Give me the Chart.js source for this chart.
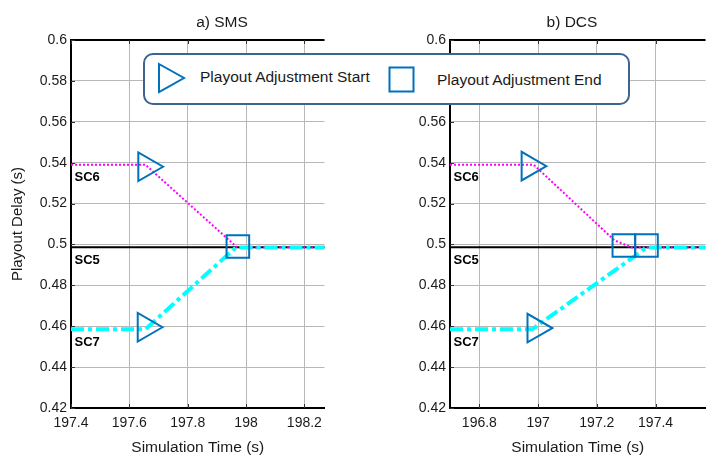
<!DOCTYPE html>
<html>
<head>
<meta charset="utf-8">
<script src="https://cdn.jsdelivr.net/npm/chart.js@4.4.1/dist/chart.umd.min.js"></script>
<style>
  html, body { margin: 0; padding: 0; background: #fff; }
  #page { position: relative; width: 716px; height: 456px; overflow: hidden;
          font-family: "Liberation Sans", Arial, sans-serif; color: #1a1a1a; }
  canvas { position: absolute; top: 0; }
  #chartA { left: 0; }
  #chartB { left: 380px; }
  .title { position: absolute; top: 13px; font-size: 15.5px; line-height: 18px;
           transform: translateX(-50%); white-space: nowrap; }
  #legend { position: absolute; left: 143px; top: 53px; width: 487px; height: 52px;
            box-sizing: border-box; border: 2px solid #3e6391; border-radius: 10px;
            background: #fff; z-index: 2; }
  #legend svg { position: absolute; }
  #legend span { position: absolute; font-size: 15.5px; line-height: 18px; white-space: nowrap; }
</style>
</head>
<body>
<div id="page">
  <canvas id="chartA" width="343" height="456"></canvas>
  <canvas id="chartB" width="344" height="456"></canvas>
  <div class="title" style="left:222px">a) SMS</div>
  <div class="title" style="left:572px">b) DCS</div>
  <div id="legend">
    <svg style="left:12px;top:7px" width="30" height="32">
      <polygon points="2,2 27,16 2,30" fill="none" stroke="#0072BD" stroke-width="2"/>
    </svg>
    <span style="left:55px;top:13px">Playout Adjustment Start</span>
    <svg style="left:243px;top:11px" width="28" height="28">
      <rect x="1.5" y="1.5" width="24" height="24" fill="none" stroke="#0072BD" stroke-width="2"/>
    </svg>
    <span style="left:292px;top:16px">Playout Adjustment End</span>
  </div>
</div>
<script>
// y axis (shared by both panels)
var yTicks = [0.42, 0.44, 0.46, 0.48, 0.5, 0.52, 0.54, 0.56, 0.58, 0.6];
var yTickLabels = ["0.42", "0.44", "0.46", "0.48", "0.5", "0.52", "0.54", "0.56", "0.58", "0.6"];
var seriesNames = ["SC6", "SC5", "SC7"];

// a) SMS
var smsTicks = [197.4, 197.6, 197.8, 198, 198.2];
var smsTickLabels = ["197.4", "197.6", "197.8", "198", "198.2"];
var smsTime6 = [197.4, 197.655, 197.97, 198.27];
var smsDelay6 = [0.539, 0.539, 0.4985, 0.4985];
var smsTime5 = [197.4, 198.27];
var smsDelay5 = [0.4986, 0.4986];
var smsTime7 = [197.4, 197.655, 197.965, 198.27];
var smsDelay7 = [0.4585, 0.4585, 0.4985, 0.4985];
var smsStartTime = [197.659, 197.657];
var smsStartDelay = [0.538, 0.4595];
var smsEndTime = [197.972];
var smsEndDelay = [0.499];

// b) DCS
var dcsTicks = [196.8, 197, 197.2, 197.4];
var dcsTickLabels = ["196.8", "197", "197.2", "197.4"];
var dcsTime6 = [196.7, 196.985, 197.26, 197.32, 197.57];
var dcsDelay6 = [0.539, 0.539, 0.502, 0.4985, 0.4985];
var dcsTime5 = [196.7, 197.57];
var dcsDelay5 = [0.4986, 0.4986];
var dcsTime7 = [196.7, 196.98, 197.37, 197.57];
var dcsDelay7 = [0.4585, 0.4585, 0.4985, 0.4985];
var dcsStartTime = [196.972, 196.992];
var dcsStartDelay = [0.5383, 0.4591];
var dcsEndTime = [197.292, 197.369];
var dcsEndDelay = [0.4995, 0.4995];

var FONT = "'Liberation Sans', Arial, sans-serif";
var MARKER = "#0072BD";
var GRID = "#b8b8b8";

function toPoints(xs, ys) {
    var pts = [];
    for (var i = 0; i < xs.length; i++) pts.push({x: xs[i], y: ys[i]});
    return pts;
}

// top border and the small inward tick marks
var framePlugin = {
    id: "frame",
    afterDraw: function(chart) {
        var ctx = chart.ctx, a = chart.chartArea;
        var xs = chart.scales.x, ys = chart.scales.y;
        ctx.save();
        ctx.strokeStyle = "#000";
        ctx.lineWidth = 2;
        ctx.beginPath();
        ctx.moveTo(a.left - 1, a.top);
        ctx.lineTo(a.right, a.top);
        ctx.stroke();
        ctx.lineWidth = 1;
        ctx.strokeStyle = "#333";
        ctx.beginPath();
        xs.ticks.forEach(function(t) {
            var px = Math.round(xs.getPixelForValue(t.value)) + 0.5;
            ctx.moveTo(px, a.top); ctx.lineTo(px, a.top + 4);
            ctx.moveTo(px, a.bottom); ctx.lineTo(px, a.bottom - 4);
        });
        ys.ticks.forEach(function(t) {
            var py = Math.round(ys.getPixelForValue(t.value)) + 0.5;
            ctx.moveTo(a.left, py); ctx.lineTo(a.left + 4, py);
        });
        ctx.stroke();
        ctx.restore();
    }
};

// SC6 / SC5 / SC7 names under the start of each curve
var namePlugin = {
    id: "names",
    afterDatasetsDraw: function(chart) {
        var ctx = chart.ctx, a = chart.chartArea, ys = chart.scales.y;
        ctx.save();
        ctx.font = "bold 13px " + FONT;
        ctx.fillStyle = "#000";
        ctx.textBaseline = "middle";
        ctx.textAlign = "left";
        chart.data.datasets.forEach(function(ds) {
            if (!ds.seriesName) return;
            var py = ys.getPixelForValue(ds.data[0].y) + 13;
            ctx.fillText(ds.seriesName, a.left + 3.5, py);
        });
        ctx.restore();
    }
};

function makeChart(id, p) {
    var lineBase = {showLine: true, pointRadius: 0, fill: false, borderCapStyle: "butt"};
    var datasets = [
        Object.assign({seriesName: seriesNames[1], data: toPoints(p.t5, p.d5),
            borderColor: "#000", borderWidth: 2, order: 3}, lineBase),
        Object.assign({seriesName: seriesNames[0], data: toPoints(p.t6, p.d6),
            borderColor: "#ff00ff", borderWidth: 2, borderDash: [2, 2], order: 2}, lineBase),
        Object.assign({seriesName: seriesNames[2], data: toPoints(p.t7, p.d7),
            borderColor: "#00ffff", borderWidth: 4, borderDash: [13, 4, 4, 4], order: 1}, lineBase),
        {data: toPoints(p.startT, p.startD), showLine: false, pointStyle: "triangle",
            pointRotation: 90, pointRadius: 16.5, pointBorderWidth: 2,
            pointBorderColor: MARKER, pointBackgroundColor: "rgba(0,0,0,0)", order: 0},
        {data: toPoints(p.endT, p.endD), showLine: false, pointStyle: "rect",
            pointRadius: 16, pointBorderWidth: 2,
            pointBorderColor: MARKER, pointBackgroundColor: "rgba(0,0,0,0)", order: 0}
    ];

    return new Chart(document.getElementById(id), {
        type: "scatter",
        data: {datasets: datasets},
        plugins: [framePlugin, namePlugin],
        options: {
            responsive: false,
            animation: false,
            events: [],
            layout: {padding: {top: 40, left: 0, right: 0, bottom: 0}},
            plugins: {legend: {display: false}, tooltip: {enabled: false}},
            scales: {
                x: {
                    type: "linear", min: p.xmin, max: p.xmax,
                    afterBuildTicks: function(s) { s.ticks = p.xTicks.map(function(v) { return {value: v}; }); },
                    afterFit: function(s) { s.height = 48; },
                    ticks: {
                        autoSkip: false, maxRotation: 0, padding: 7, color: "#1a1a1a",
                        font: {family: FONT, size: 14},
                        callback: function(v, i) { return p.xLabels[i]; }
                    },
                    grid: {color: GRID, lineWidth: 1, drawTicks: false},
                    border: {color: "#000", width: 2},
                    title: {display: true, text: "Simulation Time (s)", color: "#1a1a1a",
                        font: {family: FONT, size: 15.5, lineHeight: 1}, padding: {top: 0, bottom: 1}}
                },
                y: {
                    type: "linear", min: 0.42, max: 0.6,
                    afterBuildTicks: function(s) { s.ticks = yTicks.map(function(v) { return {value: v}; }); },
                    afterFit: function(s) { s.width = p.yWidth; },
                    ticks: {
                        autoSkip: false, padding: 4, color: "#1a1a1a",
                        font: {family: FONT, size: 14},
                        callback: function(v, i) { return yTickLabels[i]; }
                    },
                    grid: {color: GRID, lineWidth: 1, drawTicks: false},
                    border: {color: "#000", width: 2},
                    title: {display: p.yTitle, text: "Playout Delay (s)", color: "#1a1a1a",
                        font: {family: FONT, size: 15, lineHeight: 1}, padding: {top: 10.5, bottom: 0}}
                }
            }
        }
    });
}

makeChart("chartA", {
    xmin: 197.4, xmax: 198.269, xTicks: smsTicks, xLabels: smsTickLabels, yWidth: 71, yTitle: true,
    t6: smsTime6, d6: smsDelay6, t5: smsTime5, d5: smsDelay5, t7: smsTime7, d7: smsDelay7,
    startT: smsStartTime, startD: smsStartDelay, endT: smsEndTime, endD: smsEndDelay
});

makeChart("chartB", {
    xmin: 196.7, xmax: 197.57, xTicks: dcsTicks, xLabels: dcsTickLabels, yWidth: 70, yTitle: false,
    t6: dcsTime6, d6: dcsDelay6, t5: dcsTime5, d5: dcsDelay5, t7: dcsTime7, d7: dcsDelay7,
    startT: dcsStartTime, startD: dcsStartDelay, endT: dcsEndTime, endD: dcsEndDelay
});
</script>
</body>
</html>
